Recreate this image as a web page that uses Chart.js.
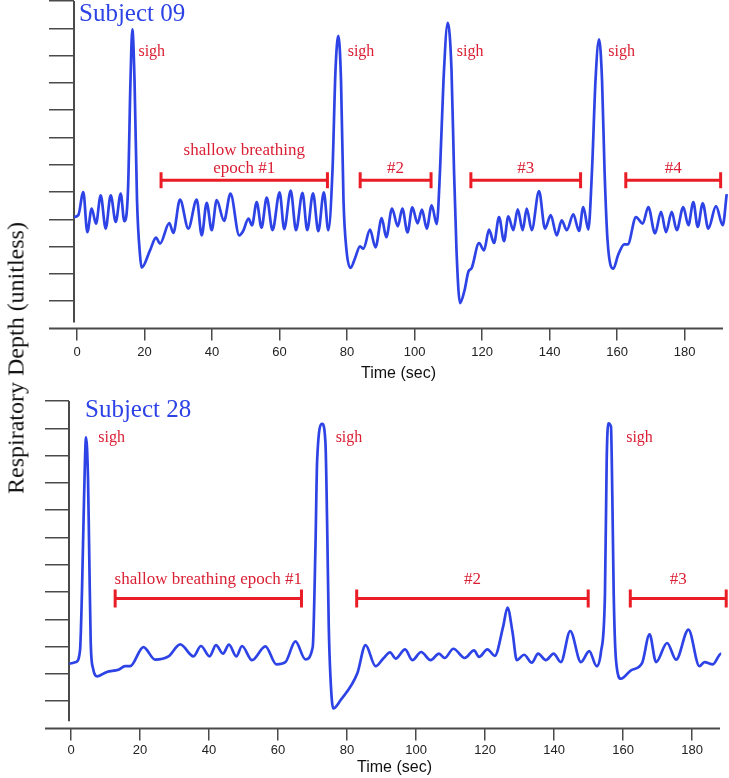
<!DOCTYPE html>
<html>
<head>
<meta charset="utf-8">
<script src="https://cdn.jsdelivr.net/npm/chart.js@4.4.0/dist/chart.umd.min.js"></script>
<style>
  html, body { margin: 0; padding: 0; background: #fff; }
  #wrap { position: relative; width: 729px; height: 778px; overflow: hidden; }
  #top { position: absolute; left: 0; top: 0; }
  #bottom { position: absolute; left: 0; top: 382px; }
  #ylabel {
    position: absolute; left: 16px; top: 358px;
    transform: translate(-50%, -50%) rotate(-90deg);
    font: 24px "Liberation Serif", "Times New Roman", serif;
    white-space: nowrap; color: #111;
  }
</style>
</head>
<body>
<div id="wrap">
  <canvas id="top" width="729" height="382"></canvas>
  <canvas id="bottom" width="729" height="396"></canvas>
  <div id="ylabel">Respiratory Depth (unitless)</div>
</div>
<script>
// tick labels shared by both panels
const timeTicks = [0, 20, 40, 60, 80, 100, 120, 140, 160, 180];
const depthTicks = [1, 2, 3, 4, 5, 6, 7, 8, 9, 10, 11, 12];

// Subject 09 trace (time in sec, depth in tick units)
const subject09Time = [
  -0.89, 0.39, 1.87, 3.05, 4.36, 5.63, 7.02, 8.50, 9.99, 11.47,
  12.95, 14.01, 15.11, 15.85, 16.39, 17.04, 17.78, 18.67, 19.17, 21.63,
  23.41, 24.59, 27.35, 28.53, 30.52, 32.98, 35.47, 36.95, 38.43, 39.91,
  41.39, 43.56, 45.48, 48.06, 49.19, 50.81, 51.85, 53.24, 54.67, 56.21,
  57.93, 60.03, 61.39, 63.32, 64.89, 66.81, 68.21, 69.93, 71.50, 73.13,
  74.46, 75.70, 76.59, 77.42, 78.22, 78.96, 79.85, 81.04, 82.37, 83.85,
  84.83, 86.81, 88.44, 90.28, 91.64, 93.33, 95.05, 96.39, 97.93, 99.35,
  100.89, 102.22, 103.61, 105.10, 106.58, 107.56, 108.59, 109.84, 110.96, 111.70,
  112.44, 113.48, 114.81, 116.0, 116.89, 119.11, 120.59, 122.07, 123.56, 125.04,
  126.52, 127.79, 129.27, 130.58, 132.06, 133.24, 134.73, 136.89, 138.67, 140.36,
  142.13, 143.61, 145.10, 147.05, 148.74, 150.01, 151.50, 152.59, 153.63, 154.67,
  155.56, 156.30, 157.19, 158.90, 160.30, 162.16, 163.17, 165.63, 167.61, 169.27,
  171.26, 173.04, 174.52, 176.21, 177.69, 179.64, 181.13, 182.61, 183.91, 185.39,
  187.05, 189.33, 191.32, 192.50
];
const subject09Depth = [
  4.08, 4.15, 5.00, 3.53, 4.39, 3.84, 4.88, 3.66, 4.88, 3.90,
  4.94, 3.93, 5.06, 9.10, 10.96, 9.10, 4.70, 2.68, 2.23, 2.86,
  3.33, 3.11, 3.86, 3.50, 4.72, 3.66, 4.72, 3.41, 4.60, 3.60,
  4.70, 3.94, 4.94, 3.41, 3.56, 4.02, 3.78, 4.63, 3.69, 4.79,
  3.60, 4.99, 3.64, 5.05, 3.60, 4.97, 3.60, 4.95, 3.56, 4.99,
  3.60, 5.80, 9.47, 10.72, 9.10, 4.70, 2.86, 2.22, 2.57, 3.01,
  2.92, 3.62, 2.97, 4.04, 3.34, 4.39, 3.74, 4.39, 3.52, 4.44,
  3.85, 4.35, 3.66, 4.51, 3.82, 5.80, 9.10, 11.20, 9.47, 5.80,
  2.86, 0.93, 1.39, 2.09, 2.20, 3.13, 2.86, 3.62, 3.13, 4.08,
  3.20, 4.11, 3.60, 4.36, 3.60, 4.39, 3.60, 5.03, 3.66, 4.15,
  3.41, 3.96, 3.60, 4.18, 3.57, 4.45, 3.62, 5.80, 9.10, 10.59,
  9.10, 5.80, 3.23, 2.19, 2.68, 3.08, 3.08, 4.08, 3.84, 4.45,
  3.48, 4.27, 3.53, 4.27, 3.60, 4.45, 3.78, 4.63, 3.72, 4.58,
  3.66, 4.48, 3.78, 4.92
];
const subject09Epochs = [[24.9, 74.2], [83.9, 104.9], [116.7, 149.2], [162.6, 190.7]];
const subject09EpochLabels = [['shallow breathing', 'epoch #1'], ['#2'], ['#3'], ['#4']];
const subject09SighLabelAt = [18.2, 80.2, 112.5, 157.4];

// Subject 28 trace
const subject28Time = [
  -0.49, 1.45, 2.61, 3.19, 3.77, 4.36, 4.94, 5.31, 5.72, 6.39,
  7.64, 10.37, 13.73, 15.68, 17.13, 20.99, 24.39, 28.25, 31.65, 35.51,
  37.66, 40.16, 42.02, 44.05, 45.79, 47.91, 49.56, 52.47, 56.33, 59.52,
  62.14, 65.04, 67.94, 70.06, 70.85, 71.34, 72.79, 73.75, 74.25, 74.71,
  75.20, 75.99, 78.11, 82.96, 85.37, 88.27, 90.50, 92.48, 94.08, 96.83,
  98.93, 101.48, 104.24, 106.65, 108.30, 110.83, 114.11, 116.81, 118.26, 120.70,
  122.82, 125.23, 126.51, 127.96, 129.21, 131.33, 133.56, 135.39, 137.63, 139.87,
  141.99, 144.69, 147.79, 150.20, 152.35, 153.60, 154.76, 155.26, 155.72, 156.50,
  156.88, 157.29, 157.96, 159.41, 162.31, 165.51, 167.68, 169.57, 172.76, 175.38,
  178.95, 182.14, 183.59, 186.03, 188.44, 190.10
];
const subject28Depth = [
  2.37, 2.43, 2.86, 5.06, 8.37, 10.67, 9.10, 6.17, 3.12, 2.20,
  1.91, 2.07, 2.15, 2.28, 2.28, 2.98, 2.52, 2.64, 3.08, 2.64,
  3.02, 2.64, 3.05, 2.74, 3.07, 2.64, 3.02, 2.50, 3.01, 2.35,
  2.43, 3.19, 2.53, 2.98, 6.65, 9.83, 11.16, 10.46, 7.39, 3.72,
  1.88, 0.73, 1.03, 2.01, 3.05, 2.28, 2.56, 2.79, 2.56, 2.90,
  2.50, 2.80, 2.50, 2.74, 2.58, 2.92, 2.58, 2.86, 2.62, 2.90,
  2.66, 3.72, 4.43, 3.53, 2.50, 2.70, 2.41, 2.74, 2.50, 2.74,
  2.43, 3.57, 2.43, 2.83, 2.28, 2.80, 4.94, 9.83, 11.18, 11.06,
  8.61, 4.94, 2.50, 1.82, 2.13, 2.39, 3.45, 2.43, 3.13, 2.52,
  3.62, 2.28, 2.43, 2.35, 2.74, 2.43
];
const subject28Epochs = [[12.8, 66.8], [82.8, 149.9], [162.1, 189.9]];
const subject28EpochLabels = [['shallow breathing epoch #1'], ['#2'], ['#3']];
const subject28SighLabelAt = [7.9, 76.7, 160.9];

const BLUE = '#2d43e6';
const RED = '#ea1c26';
const RED_TEXT = '#da1f34';
const AXIS = '#4a4a4a';
const SERIF = '"Liberation Serif", "Times New Roman", serif';
const SANS = '"Liberation Sans", Arial, sans-serif';

// axis lines, red epoch brackets and text labels
const annotate = {
  id: 'annotate',
  beforeDatasetsDraw(chart, args, opts) {
    const { ctx, chartArea, scales: { x, y } } = chart;
    ctx.save();
    ctx.strokeStyle = AXIS;
    ctx.lineWidth = 2;
    ctx.beginPath();
    ctx.moveTo(chartArea.left, chartArea.top);
    ctx.lineTo(chartArea.left, y.getPixelForValue(opts.axisStop));
    ctx.moveTo(y.left, chartArea.bottom);
    ctx.lineTo(chartArea.right, chartArea.bottom);
    ctx.stroke();
    ctx.restore();
  },
  afterDatasetsDraw(chart, args, opts) {
    const { ctx, chartArea, scales: { x, y } } = chart;
    ctx.save();
    const by = y.getPixelForValue(opts.epochLevel);
    ctx.strokeStyle = RED;
    ctx.lineWidth = 3;
    ctx.fillStyle = RED_TEXT;
    ctx.textAlign = 'center';
    ctx.textBaseline = 'middle';
    ctx.font = `${opts.textSize}px ${SERIF}`;
    opts.epochs.forEach(([a, b], i) => {
      const xa = x.getPixelForValue(a), xb = x.getPixelForValue(b);
      ctx.beginPath();
      ctx.moveTo(xa, by); ctx.lineTo(xb, by);
      ctx.moveTo(xa, by - opts.cap); ctx.lineTo(xa, by + opts.cap);
      ctx.moveTo(xb, by - opts.cap); ctx.lineTo(xb, by + opts.cap);
      ctx.stroke();
      const lines = opts.epochLabels[i];
      lines.forEach((txt, k) => {
        const ly = by - opts.labelGap - (lines.length - 1 - k) * opts.lineStep;
        ctx.fillText(txt, (xa + xb) / 2, ly);
      });
    });
    ctx.textAlign = 'left';
    ctx.font = `${opts.sighSize}px ${SERIF}`;
    const sy = y.getPixelForValue(opts.sighLevel);
    opts.sighs.forEach(t => ctx.fillText('sigh', x.getPixelForValue(t), sy));
    ctx.fillStyle = BLUE;
    ctx.textBaseline = 'alphabetic';
    ctx.font = `25px ${SERIF}`;
    ctx.fillText(opts.title, chartArea.left + opts.titleDx, chartArea.top + opts.titleDy);
    ctx.restore();
  }
};

function makePanel(id, times, depths, xMin, xMax, pad, tickLen, tickPad, titlePad, ann) {
  return new Chart(document.getElementById(id), {
    type: 'line',
    data: {
      datasets: [{
        data: times.map((t, i) => ({ x: t, y: depths[i] })),
        borderColor: BLUE,
        borderWidth: 2.7,
        pointRadius: 0,
        cubicInterpolationMode: 'monotone',
        clip: false
      }]
    },
    options: {
      responsive: false,
      animation: false,
      layout: { padding: pad },
      plugins: { legend: { display: false }, tooltip: { enabled: false }, annotate: ann },
      scales: {
        x: {
          type: 'linear', min: xMin, max: xMax,
          afterBuildTicks: s => { s.ticks = timeTicks.map(v => ({ value: v })); },
          border: { display: false },
          grid: { drawOnChartArea: false, tickLength: 12, color: AXIS, lineWidth: 1.5 },
          ticks: { font: { size: 13, family: SANS }, color: '#222', padding: tickPad, maxRotation: 0, autoSkip: false },
          title: { display: true, text: 'Time (sec)', color: '#111', font: { size: 16, family: SANS, lineHeight: 1 }, padding: { top: titlePad, bottom: 0 } }
        },
        y: {
          min: 0, max: 12,
          afterBuildTicks: s => { s.ticks = depthTicks.map(v => ({ value: v })); },
          border: { display: false },
          grid: { drawOnChartArea: false, tickLength: tickLen, color: AXIS, lineWidth: 1.5 },
          ticks: { display: false }
        }
      }
    },
    plugins: [annotate]
  });
}

makePanel('top', subject09Time, subject09Depth, -0.89, 191.4,
  { top: 1, left: 49, right: 6, bottom: 0 }, 25, 4, 2,
  { axisStop: 0.22, epochs: subject09Epochs, epochLabels: subject09EpochLabels, epochLevel: 5.43,
    cap: 8, labelGap: 12, lineStep: 18, textSize: 17, sighs: subject09SighLabelAt, sighLevel: 10.13,
    sighSize: 16, title: 'Subject 09', titleDx: 5, titleDy: 20 });

makePanel('bottom', subject28Time, subject28Depth, -0.58, 188.1,
  { top: 19, left: 45, right: 9, bottom: 2 }, 24, 2, 0,
  { axisStop: 0.26, epochs: subject28Epochs, epochLabels: subject28EpochLabels, epochLevel: 4.76,
    cap: 9, labelGap: 19, lineStep: 18, textSize: 17, sighs: subject28SighLabelAt, sighLevel: 10.64,
    sighSize: 16, title: 'Subject 28', titleDx: 16, titleDy: 16 });
</script>
</body>
</html>
